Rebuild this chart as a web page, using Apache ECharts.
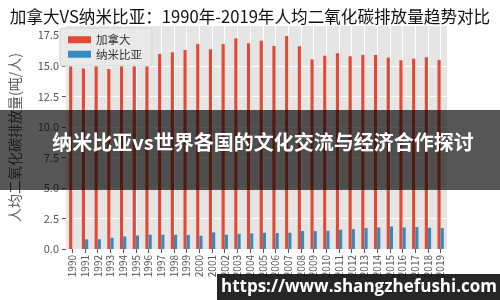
<!DOCTYPE html>
<html>
<head>
<meta charset="utf-8">
<script src="https://cdn.jsdelivr.net/npm/echarts@6/dist/echarts.min.js"></script>
<style>
html,body{margin:0;padding:0;background:#fff;}
#c{width:500px;height:300px;}
</style>
</head>
<body>
<div id="c"></div>
<script>
const years = ['1990','1991','1992','1993','1994','1995','1996','1997','1998','1999','2000','2001','2002','2003','2004','2005','2006','2007','2008','2009','2010','2011','2012','2013','2014','2015','2016','2017','2018','2019'];
const canada = [15.2,14.77,15.07,14.74,15.1,15.23,15.23,15.97,16.1,16.3,16.78,16.35,16.78,17.25,16.84,17.06,16.62,17.44,16.6,15.53,15.83,16.03,15.78,15.89,15.89,15.67,15.45,15.58,15.7,15.48];
const namibia = [null,0.79,0.8,0.92,1.03,1.11,1.17,1.17,1.17,1.14,1.09,1.36,1.17,1.25,1.28,1.33,1.31,1.33,1.47,1.47,1.5,1.58,1.63,1.71,1.77,1.85,1.77,1.8,1.74,1.71];
const yTicks = [0,2.5,5,7.5,10,12.5,15,17.5];
const seriesNames = ['加拿大','纳米比亚'];
const titleText = '加拿大VS纳米比亚：1990年-2019年人均二氧化碳排放量趋势对比';
const yName = '人均二氧化碳排放量(吨/人)';
const bannerText = '纳米比亚vs世界各国的文化交流与经济合作探讨';
const watermarkText = 'https://www.shangzhefushi.com';

const FONT = '"Noto Sans CJK SC", "Noto Sans", sans-serif';
const chart = echarts.init(document.getElementById('c'), null, {renderer:'canvas'});
chart.setOption({
  animation:false,
  textStyle:{fontFamily:FONT},
  title:{text:titleText,left:'center',top:3,textStyle:{fontSize:16.6,fontWeight:'normal',color:'#111',fontFamily:FONT}},
  legend:{
    orient:'vertical',left:60,top:28,
    itemWidth:23,itemHeight:7,itemGap:3,icon:'rect',
    padding:[6,10,6,8],
    backgroundColor:'#E9E9E9',borderColor:'#D5D5D5',borderWidth:1,borderRadius:3,
    textStyle:{fontSize:11.5,color:'#333',fontFamily:FONT},
    data:seriesNames
  },
  grid:{left:60,right:53,top:26,bottom:51,show:true,backgroundColor:'#E5E5E5',borderWidth:0},
  xAxis:{
    type:'category',data:years,boundaryGap:true,
    axisLine:{show:false},
    axisTick:{show:true,alignWithLabel:true,length:4,lineStyle:{color:'#555'}},
    axisLabel:{rotate:90,fontSize:10,color:'#555',margin:6,interval:0},
    splitLine:{show:true,alignWithLabel:true,lineStyle:{color:'#fff',width:1}}
  },
  yAxis:{
    type:'value',min:0,max:18.26,interval:2.5,
    name:yName,nameLocation:'middle',nameGap:44,
    nameTextStyle:{fontSize:14,color:'#555',fontFamily:FONT},
    axisLine:{show:false},
    axisTick:{show:true,length:4,lineStyle:{color:'#555'},customValues:yTicks},
    axisLabel:{fontSize:11,color:'#555',margin:7,customValues:yTicks,formatter:v=>v.toFixed(1)},
    splitLine:{show:true,showMaxLine:false,lineStyle:{color:'#fff',width:1}}
  },
  series:[
    {name:seriesNames[0],type:'bar',data:canada,barWidth:'25%',barGap:'0%',itemStyle:{color:'#E24A33'}},
    {name:seriesNames[1],type:'bar',data:namibia,barWidth:'25%',barGap:'0%',itemStyle:{color:'#348ABD'}}
  ],
  graphic:[
    {type:'rect',z:100,shape:{x:0,y:110,width:500,height:80},style:{fill:'rgba(0,0,0,0.66)'}},
    {type:'text',z:101,x:263,y:142,style:{text:bannerText,fill:'#fff',font:'bold 20px "Noto Sans CJK SC", sans-serif',align:'center',verticalAlign:'middle'}},
    {type:'rect',z:100,shape:{x:217,y:274,width:283,height:26},style:{fill:'rgba(20,20,20,0.92)'}},
    {type:'text',z:101,x:359,y:287,style:{text:watermarkText,fill:'#fff',font:'bold 17px "Open Sans", sans-serif',align:'center',verticalAlign:'middle'}}
  ]
});
</script>
</body>
</html>
